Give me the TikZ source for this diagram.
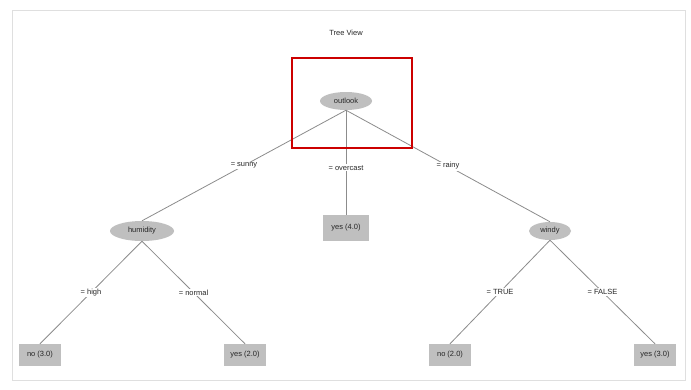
\documentclass[tikz,border=0pt]{standalone}
\usepackage{fontspec}
\setmainfont{Liberation Sans}
\usetikzlibrary{shapes.geometric}
\begin{document}
\begin{tikzpicture}[x=1pt, y=-1pt,
    every node/.style={font=\fontsize{7.5}{9}\selectfont, text=black!85},
    split/.style={ellipse, fill=gray!50, inner sep=1pt, minimum height=18},
    leafbox/.style={rectangle, fill=gray!50, minimum width=42, minimum height=22},
    cond/.style={fill=white, inner sep=1pt},
    branch/.style={draw=gray!90, line width=.8pt}]
    \useasboundingbox[fill=white] (0,0) rectangle (691,389);
    \draw[gray!25] (12,10) rectangle (685,380);
    \node (title) at (346,33) {Tree View};

    % splits
    \node[split, minimum width=52] (outlook) at (346,101) {outlook};
    \node[split, minimum width=64, minimum height=20] (humidity) at (142,231) {humidity};
    \node[split, minimum width=42] (windy) at (550,231) {windy};

    % leaves
    \node[leafbox] (no1) at (40,355) {no (3.0)};
    \node[leafbox] (yes1) at (245,355) {yes (2.0)};
    \node[leafbox, minimum width=46, minimum height=26] (yes2) at (346,228) {yes (4.0)};
    \node[leafbox] (no2) at (450,355) {no (2.0)};
    \node[leafbox] (yes3) at (655,355) {yes (3.0)};

    % branches
    \draw[branch] (outlook.south) -- (humidity.north) node[cond, midway] {= sunny};
    \draw[branch] (outlook.south) -- (yes2.north) node[cond, pos=.55] {= overcast};
    \draw[branch] (outlook.south) -- (windy.north) node[cond, midway] {= rainy};
    \draw[branch] (humidity.south) -- (no1.north) node[cond, midway] {= high};
    \draw[branch] (humidity.south) -- (yes1.north) node[cond, midway] {= normal};
    \draw[branch] (windy.south) -- (no2.north) node[cond, midway] {= TRUE};
    \draw[branch] (windy.south) -- (yes3.north) node[cond, midway] {= FALSE};

    % highlight
    \draw[red!80!black, line width=2.2pt] (292,58) rectangle (412,148);
\end{tikzpicture}
\end{document}
